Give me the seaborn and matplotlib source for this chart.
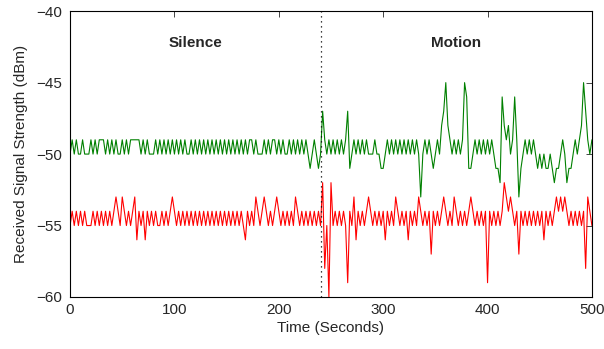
import numpy as np
import pandas as pd
import matplotlib
matplotlib.use("Agg")
import matplotlib.pyplot as plt
import seaborn as sns

# readings every 2 seconds, 0..500 s (dBm)
green_rss = [
    -50, -49, -50, -49, -50, -50, -49, -50, -50, -50, -49, -50, -49, -50, -49, -49, -49, -50, -49, -50, -49, -50, -49, -50, -50,
    -49, -50, -49, -50, -49, -49, -49, -49, -49, -50, -49, -50, -49, -50, -50, -50, -49, -50, -49, -50, -49, -50, -49, -50, -49,
    -50, -49, -50, -49, -50, -49, -50, -50, -49, -50, -49, -50, -49, -50, -49, -50, -49, -50, -49, -50, -49, -50, -49, -50, -49,
    -50, -49, -50, -49, -50, -49, -50, -49, -50, -49, -50, -49, -49, -50, -49, -50, -50, -50, -49, -50, -49, -50, -49, -49, -50,
    -49, -50, -49, -50, -50, -49, -50, -49, -50, -49, -50, -49, -50, -49, -50, -51, -50, -49, -50, -51, -50, -47, -49, -50, -49,
    -50, -49, -50, -49, -50, -49, -50, -49, -47, -51, -50, -49, -50, -49, -50, -49, -50, -49, -50, -50, -50, -49, -50, -50, -51,
    -51, -50, -49, -50, -49, -50, -49, -50, -49, -50, -49, -50, -49, -50, -49, -50, -49, -50, -53, -50, -49, -50, -49, -50, -51,
    -50, -49, -50, -48, -47, -45, -48, -49, -50, -49, -50, -49, -50, -49, -45, -46, -51, -51, -50, -49, -50, -49, -50, -49, -50,
    -49, -50, -49, -50, -51, -51, -52, -46, -48, -49, -48, -50, -49, -46, -49, -53, -51, -50, -49, -50, -49, -50, -49, -50, -51,
    -50, -51, -50, -51, -51, -50, -51, -52, -51, -51, -50, -49, -50, -52, -51, -51, -50, -49, -50, -49, -48, -45, -47, -49, -50, -49,
]
red_rss = [
    -55, -54, -55, -54, -55, -54, -55, -54, -55, -55, -55, -54, -55, -54, -55, -54, -55, -54, -55, -54, -55, -54, -53, -54, -55,
    -53, -54, -55, -54, -55, -54, -53, -56, -54, -55, -54, -56, -54, -55, -54, -55, -54, -55, -55, -54, -55, -54, -55, -54, -53,
    -54, -55, -54, -55, -54, -55, -54, -55, -54, -55, -54, -55, -54, -55, -54, -55, -54, -55, -54, -55, -54, -55, -54, -55, -54,
    -55, -54, -55, -54, -55, -54, -55, -54, -55, -56, -54, -55, -54, -55, -53, -54, -55, -54, -53, -54, -55, -54, -55, -54, -53,
    -54, -55, -54, -55, -54, -55, -54, -55, -53, -54, -55, -54, -55, -54, -55, -54, -55, -54, -55, -54, -55, -52, -58, -55, -60,
    -52, -55, -54, -55, -54, -55, -54, -55, -59, -54, -55, -53, -56, -54, -55, -54, -55, -54, -53, -54, -55, -54, -55, -54, -55,
    -54, -56, -54, -55, -54, -55, -53, -54, -55, -54, -55, -54, -56, -54, -55, -54, -55, -53, -54, -55, -54, -55, -54, -57, -54,
    -55, -54, -55, -54, -53, -54, -55, -54, -55, -53, -54, -55, -54, -55, -54, -55, -54, -53, -54, -55, -54, -55, -54, -55, -54,
    -59, -54, -55, -54, -55, -54, -55, -54, -52, -53, -54, -53, -54, -55, -54, -57, -54, -55, -54, -55, -54, -55, -54, -55, -54,
    -55, -54, -56, -54, -55, -54, -55, -54, -53, -54, -53, -54, -53, -54, -55, -54, -55, -54, -55, -54, -55, -54, -58, -53, -54, -55,
]
sample_step = 2
boundary = 240  # silence -> motion
phase_labels = ["Silence", "Motion"]
phase_x = [120, 370]

df = pd.concat([
    pd.DataFrame({"time": np.arange(len(green_rss)) * sample_step, "rss": green_rss, "node": "g"}),
    pd.DataFrame({"time": np.arange(len(red_rss)) * sample_step, "rss": red_rss, "node": "r"}),
])

sns.set_style("white")
plt.rcParams["font.family"] = ["Liberation Sans", "DejaVu Sans"]
plt.rcParams["font.size"] = 10

fig = plt.figure(figsize=(6.04, 3.49), dpi=100)
ax = fig.add_axes([0.116, 0.149, 0.864, 0.819])

sns.lineplot(data=df, x="time", y="rss", hue="node", palette={"g": "#008000", "r": "#ff0000"},
             linewidth=0.8, legend=False, ax=ax, estimator=None)
ax.axvline(boundary, color="black", linestyle=(0, (1, 3)), linewidth=0.9)

for lab, xx in zip(phase_labels, phase_x):
    ax.text(xx, -42.2, lab, ha="center", va="center", fontweight="bold", fontsize=11)

ax.set_xlim(0, 500)
ax.set_ylim(-60, -40)
ax.set_xticks(range(0, 501, 100))
ax.set_yticks(range(-60, -39, 5))
ax.set_yticklabels([f"\u2212{abs(v)}" for v in range(-60, -39, 5)])
ax.tick_params(direction="in", top=True, right=True, length=4, width=0.6, labelsize=11)
ax.tick_params(axis="x", pad=4)
ax.tick_params(axis="y", pad=6)
for s in ax.spines.values():
    s.set_linewidth(0.8)
    s.set_color("black")
ax.set_xlabel("Time (Seconds)", fontsize=11, labelpad=3)
ax.set_ylabel("Received Signal Strength (dBm)", fontsize=11, labelpad=6)

fig.savefig("out.png", dpi=100)
